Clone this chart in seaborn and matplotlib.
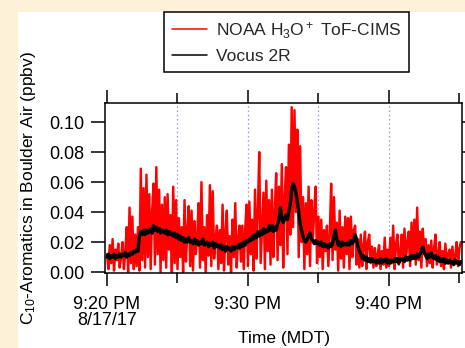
import numpy as np
import matplotlib
matplotlib.use("Agg")
import matplotlib.pyplot as plt
from matplotlib.patches import Rectangle
import seaborn as sns

# ---------------- data (minutes after 9:20 PM, 6-s steps) ----------------
step_min = 0.1
noaa_ppbv = [
    0.012, 0.002, 0.018, 0.006, 0.022, 0.001, 0.015, 0.008, 0.019, 0.003,
    0.010, 0.020, 0.002, 0.014, 0.030, 0.000, 0.043, 0.006, 0.037, 0.002,
    0.025, 0.004, 0.030, 0.001, 0.069, 0.008, 0.056, 0.003, 0.065, 0.010,
    0.052, 0.002, 0.040, 0.059, 0.005, 0.070, 0.012, 0.055, 0.000, 0.045,
    0.008, 0.050, 0.003, 0.052, 0.015, 0.038, 0.000, 0.057, 0.006, 0.048,
    0.002, 0.036, 0.010, 0.030, 0.000, 0.048, 0.007, 0.028, 0.044, 0.004,
    0.041, 0.001, 0.034, 0.012, 0.025, 0.046, 0.003, 0.060, 0.008, 0.030,
    0.000, 0.038, 0.011, 0.058, 0.004, 0.054, 0.009, 0.022, 0.031, 0.002,
    0.028, 0.006, 0.045, 0.001, 0.026, 0.041, 0.005, 0.024, 0.000, 0.035,
    0.010, 0.046, 0.003, 0.022, 0.031, 0.007, 0.031, 0.002, 0.028, 0.045,
    0.004, 0.047, 0.012, 0.035, 0.001, 0.055, 0.009, 0.040, 0.080, 0.006,
    0.030, 0.053, 0.002, 0.061, 0.014, 0.048, 0.005, 0.055, 0.010, 0.040,
    0.066, 0.008, 0.057, 0.018, 0.072, 0.003, 0.050, 0.070, 0.012, 0.085,
    0.025, 0.110, 0.030, 0.108, 0.040, 0.095, 0.010, 0.084, 0.020, 0.050,
    0.002, 0.046, 0.012, 0.057, 0.004, 0.048, 0.020, 0.041, 0.057, 0.006,
    0.037, 0.010, 0.035, 0.002, 0.028, 0.014, 0.031, 0.004, 0.025, 0.059,
    0.008, 0.050, 0.015, 0.033, 0.001, 0.041, 0.009, 0.030, 0.003, 0.037,
    0.012, 0.036, 0.002, 0.037, 0.010, 0.028, 0.031, 0.005, 0.022, 0.003,
    0.025, 0.004, 0.018, 0.027, 0.002, 0.020, 0.025, 0.006, 0.017, 0.003,
    0.016, 0.004, 0.012, 0.018, 0.002, 0.014, 0.005, 0.023, 0.003, 0.015,
    0.004, 0.023, 0.006, 0.031, 0.002, 0.018, 0.025, 0.005, 0.013, 0.025,
    0.003, 0.029, 0.008, 0.020, 0.027, 0.004, 0.033, 0.009, 0.035, 0.005,
    0.043, 0.008, 0.027, 0.003, 0.029, 0.012, 0.022, 0.004, 0.018, 0.006,
    0.021, 0.003, 0.016, 0.025, 0.005, 0.012, 0.020, 0.004, 0.014, 0.002,
    0.019, 0.006, 0.012, 0.015, 0.003, 0.017, 0.005, 0.011, 0.020, 0.004,
    0.016, 0.020,
]
vocus_ppbv = [
    0.010, 0.012, 0.009, 0.011, 0.010, 0.012, 0.009, 0.011, 0.010, 0.012,
    0.010, 0.012, 0.011, 0.013, 0.010, 0.012, 0.011, 0.013, 0.012, 0.014,
    0.013, 0.015, 0.014, 0.024, 0.027, 0.025, 0.028, 0.025, 0.028, 0.026,
    0.027, 0.029, 0.026, 0.031, 0.028, 0.030, 0.027, 0.029, 0.026, 0.028,
    0.027, 0.026, 0.028, 0.025, 0.027, 0.025, 0.026, 0.024, 0.026, 0.023,
    0.025, 0.022, 0.024, 0.021, 0.023, 0.020, 0.022, 0.020, 0.023, 0.020,
    0.021, 0.019, 0.022, 0.019, 0.021, 0.018, 0.020, 0.019, 0.022, 0.018,
    0.019, 0.020, 0.017, 0.019, 0.018, 0.020, 0.016, 0.019, 0.017, 0.018,
    0.016, 0.018, 0.015, 0.017, 0.014, 0.017, 0.015, 0.016, 0.014, 0.017,
    0.015, 0.017, 0.016, 0.018, 0.016, 0.019, 0.017, 0.020, 0.018, 0.021,
    0.020, 0.022, 0.021, 0.024, 0.022, 0.025, 0.023, 0.027, 0.024, 0.027,
    0.025, 0.029, 0.026, 0.028, 0.027, 0.031, 0.028, 0.031, 0.027, 0.030,
    0.028, 0.032, 0.035, 0.043, 0.036, 0.033, 0.036, 0.038, 0.035, 0.041,
    0.045, 0.055, 0.059, 0.057, 0.053, 0.047, 0.040, 0.032, 0.028, 0.024,
    0.021, 0.020, 0.022, 0.024, 0.026, 0.022, 0.021, 0.019, 0.021, 0.019,
    0.020, 0.018, 0.020, 0.017, 0.019, 0.017, 0.018, 0.016, 0.019, 0.017,
    0.019, 0.024, 0.028, 0.022, 0.018, 0.020, 0.017, 0.020, 0.018, 0.019,
    0.018, 0.020, 0.018, 0.021, 0.019, 0.021, 0.025, 0.022, 0.017, 0.014,
    0.012, 0.009, 0.011, 0.008, 0.010, 0.007, 0.009, 0.007, 0.009, 0.007,
    0.008, 0.006, 0.008, 0.006, 0.009, 0.006, 0.008, 0.007, 0.009, 0.006,
    0.008, 0.006, 0.008, 0.007, 0.009, 0.007, 0.009, 0.006, 0.009, 0.008,
    0.009, 0.007, 0.010, 0.008, 0.010, 0.008, 0.011, 0.009, 0.011, 0.009,
    0.012, 0.010, 0.012, 0.014, 0.017, 0.013, 0.011, 0.009, 0.012, 0.010,
    0.013, 0.010, 0.009, 0.011, 0.008, 0.010, 0.007, 0.009, 0.007, 0.009,
    0.006, 0.008, 0.006, 0.008, 0.006, 0.007, 0.005, 0.008, 0.006, 0.007,
    0.005, 0.007,
]
series_labels = ["NOAA H$_3$O$^+$ ToF-CIMS", "Vocus 2R"]
major_ticks_min = [0, 10, 20]
major_tick_labels = ["9:20 PM\n8/17/17", "9:30 PM", "9:40 PM"]
minor_ticks_min = [5, 15, 25]
grid_min = [5, 10, 15, 20]
y_ticks = [0.00, 0.02, 0.04, 0.06, 0.08, 0.10]

t_noaa = np.arange(len(noaa_ppbv)) * step_min
t_vocus = np.arange(len(vocus_ppbv)) * step_min

# ---------------- style ----------------
sns.set_theme(style="white")
plt.rcParams["font.family"] = ["Liberation Sans", "DejaVu Sans"]
plt.rcParams["mathtext.fontset"] = "custom"
plt.rcParams["mathtext.rm"] = "Liberation Sans"
plt.rcParams["mathtext.it"] = "Liberation Sans:italic"
plt.rcParams["mathtext.default"] = "regular"

W, H = 465, 348
FS = 13
fig = plt.figure(figsize=(W / 100, H / 100), dpi=100)
fig.patch.set_facecolor("#FDF2D8")
fig.patches.append(Rectangle((18 / W, 0), 1, (H - 12) / H, transform=fig.transFigure,
                             facecolor="white", edgecolor="none", zorder=-5))

ax = fig.add_axes([105 / W, (H - 273) / H, (462 - 105) / W, (273 - 103) / H])
ax.set_facecolor("white")

for g in grid_min:
    ax.axvline(g, color="#9a9ad8", lw=0.9, ls=(0, (1.2, 2.2)), zorder=1)

sns.lineplot(x=t_noaa, y=noaa_ppbv, ax=ax, color="#ff0000", lw=1.75,
             estimator=None, sort=False, label=series_labels[0], zorder=2)
sns.lineplot(x=t_vocus, y=vocus_ppbv, ax=ax, color="black", lw=2.4,
             estimator=None, sort=False, label=series_labels[1], zorder=3)

ax.set_xlim(-0.14, 25.18)
ax.set_ylim(-0.0006, 0.1128)
ax.set_xticks(major_ticks_min)
ax.set_xticklabels(major_tick_labels, fontsize=FS, linespacing=0.95)
ax.set_xticks(minor_ticks_min, minor=True)
ax.set_yticks(y_ticks)
ax.set_yticklabels([f"{v:.2f}" for v in y_ticks], fontsize=FS)

for s in ax.spines.values():
    s.set_visible(True)
    s.set_color("black")
    s.set_linewidth(1.1)

ax.tick_params(axis="x", which="major", direction="out", length=9.5, width=1.1,
               pad=7, top=True, bottom=True, colors="black", labelcolor="black")
ax.tick_params(axis="x", which="minor", direction="out", length=7.5, width=1.1,
               top=True, bottom=True, colors="black")
ax.tick_params(axis="y", which="major", direction="out", length=10, width=1.1,
               pad=4.5, left=True, right=True, colors="black", labelcolor="black")

ax.set_ylabel("C$_{10}$-Aromatics in Boulder Air (ppbv)", fontsize=12.5, color="black")
ax.yaxis.set_label_coords((38 - 105) / 357, 0.5)
ax.set_xlabel("Time (MDT)", fontsize=12.5, color="black")
ax.xaxis.set_label_coords(0.5, (273 - 331) / 170)
ax.xaxis.label.set_va("top")

leg = ax.legend(loc="upper left", bbox_to_anchor=(164 / W, 1 - 12 / H),
                bbox_transform=fig.transFigure, fontsize=12.5, frameon=True,
                fancybox=False, borderaxespad=0, handlelength=2.0,
                handletextpad=0.55, labelspacing=0.5, borderpad=0.45)
leg.get_frame().set_edgecolor("black")
leg.get_frame().set_linewidth(1.1)
leg.get_frame().set_facecolor("white")
leg.get_frame().set_alpha(1)
for line in leg.get_lines():
    line.set_linewidth(1.1)

fig.savefig("out.png", dpi=100, facecolor=fig.get_facecolor())
